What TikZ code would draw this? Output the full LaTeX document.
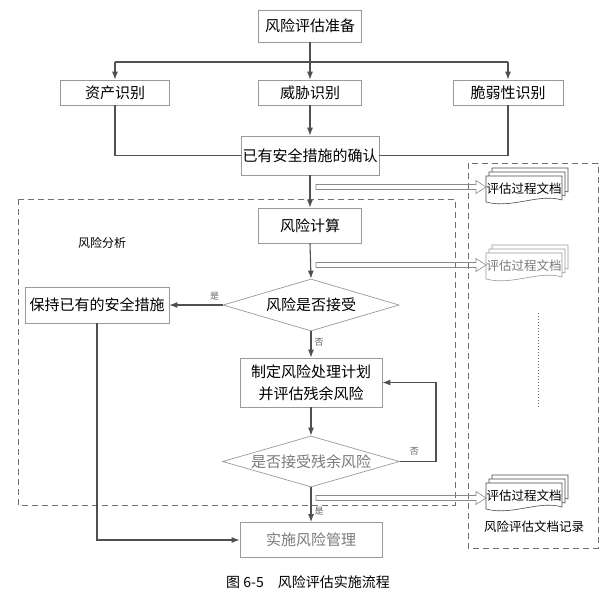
\documentclass[tikz,border=0pt]{standalone}
\usepackage{fontspec}
\setmainfont{Noto Sans CJK SC}
\usetikzlibrary{arrows.meta,shapes.geometric,calc}
\definecolor{boxgray}{HTML}{9A9A9A}
\definecolor{linegray}{HTML}{505050}
\definecolor{dashgray}{HTML}{707070}
\definecolor{harrowgray}{HTML}{8A8A8A}
\definecolor{softtext}{HTML}{7A7A7A}
\newcommand\docstack[5]{%
  \foreach \s in {2,1} {\draw[draw=#4, fill=white, line width=0.6pt, shift={(3*\s,-4*\s)}]
    (#2-38,#3-13) -- (#2+38,#3-13) -- (#2+38,#3+11) .. controls (#2+15,#3+4) and (#2-12,#3+20) .. (#2-38,#3+13) -- cycle;}
  \draw[draw=#4, fill=white, line width=0.6pt]
    (#2-38,#3-13) -- (#2+38,#3-13) -- (#2+38,#3+11) .. controls (#2+15,#3+4) and (#2-12,#3+20) .. (#2-38,#3+13) -- cycle;
  \node[text=#5, font=\fontsize{12.5}{14}\selectfont, inner sep=0pt] (#1) at (#2,#3) {评估过程文档};
}
\newcommand\hollowarr[2]{%
  \draw[draw=harrowgray, line width=0.6pt] let \p1=(#1), \p2=(#2) in
    ({\x1},{\y1+2.5pt}) -- ({\x2-10pt},{\y1+2.5pt}) -- ({\x2-10pt},{\y1+6.5pt}) -- ({\x2},{\y1})
    -- ({\x2-10pt},{\y1-6.5pt}) -- ({\x2-10pt},{\y1-2.5pt}) -- ({\x1},{\y1-2.5pt}) -- cycle;
}
\begin{document}
\begin{tikzpicture}[x=1pt,y=-1pt,
  box/.style={draw=boxgray, line width=0.7pt, inner sep=0pt, font=\fontsize{15}{18}\selectfont, text=black, align=center},
  arr/.style={draw=linegray, line width=1.1pt, -{Latex[length=8pt,width=6pt]}},
  ln/.style={draw=linegray, line width=1.1pt},
  dia/.style={diamond, aspect=3.4, draw=boxgray, line width=0.7pt, inner sep=0pt, font=\fontsize{15}{18}\selectfont},
  lbl/.style={font=\fontsize{9}{10}\selectfont, text=black!60, inner sep=0pt},
  dbox/.style={draw=dashgray, line width=0.9pt, dash pattern=on 6pt off 4pt},
]
\fill[white] (0,0) rectangle (607,597);
\useasboundingbox (0,0) rectangle (607,597);

% dashed frames
\draw[dbox] (18,199) rectangle (455,505);
\draw[dbox] (468,163) rectangle (598,548);

% nodes
\node[box, minimum width=103, minimum height=32] (prep) at (310,26) {风险评估准备};
\node[box, minimum width=109, minimum height=25] (asset) at (115,92.5) {资产识别};
\node[box, minimum width=103, minimum height=25] (threat) at (310,92.5) {威胁识别};
\node[box, minimum width=110, minimum height=25] (vuln) at (508,92.5) {脆弱性识别};
\node[box, minimum width=138, minimum height=39] (confirm) at (310,155.5) {已有安全措施的确认};
\node[box, minimum width=103, minimum height=35] (calc) at (310,225.5) {风险计算};
\node[dia, minimum width=176, minimum height=52] (dia1) at (311,305) {风险是否接受};
\node[box, minimum width=144, minimum height=36] (keep) at (97,305) {保持已有的安全措施};
\node[box, minimum width=142, minimum height=49, font=\fontsize{15}{22}\selectfont] (plan) at (311,382.5) {制定风险处理计划\\并评估残余风险};
\node[dia, minimum width=177, minimum height=51, text=softtext] (dia2) at (311,461.5) {是否接受残余风险};
\node[box, minimum width=142, minimum height=35, text=softtext] (impl) at (311,540) {实施风险管理};

\node[font=\fontsize{12}{14}\selectfont, inner sep=0pt] (ana) at (102,243) {风险分析};
\node[font=\fontsize{12.5}{14}\selectfont, inner sep=0pt] (rec) at (534,527) {风险评估文档记录};
\node[font=\fontsize{14}{16}\selectfont, inner sep=0pt] (cap) at (308,582) {图 6-5\quad 风险评估实施流程};

% top connectors
\coordinate (split) at (310,62);
\draw[ln] (prep.south) -- (split);
\draw[ln] (asset.north |- split) -- (vuln.north |- split);
\draw[arr] (asset.north |- split) -- (asset.north);
\draw[arr] (split) -- (threat.north);
\draw[arr] (vuln.north |- split) -- (vuln.north);
\draw[ln] (asset.south) |- (confirm.west);
\draw[ln] (vuln.south) |- (confirm.east);
\draw[arr] (threat.south) -- (confirm.north);
\draw[arr] (confirm.south) -- (calc.north);
\draw[arr] (calc.south) -- (dia1.north);
\draw[arr] (dia1.west) -- node[lbl, above, yshift=4pt, pos=0.15] {是} (keep.east);
\draw[arr] (dia1.south) -- node[lbl, right, xshift=3pt, pos=0.4] {否} (plan.north);
\draw[arr] (plan.south) -- (dia2.north);
\coordinate (fb) at (436,461.5);
\draw[arr] (dia2.east) -- node[lbl, above, yshift=6pt, pos=0.4] {否} (fb) |- (plan.east);
\draw[arr] (dia2.south) -- node[lbl, right, xshift=3pt, pos=0.68] {是} (impl.north);
\draw[arr] (keep.south) |- (impl.west);

% documents
\docstack{doc1}{524}{189}{black!70}{black}
\docstack{doc2}{524}{266}{boxgray}{softtext}
\docstack{doc3}{524}{496}{black!70}{black}

% hollow arrows
\coordinate (h1s) at (316,187); \coordinate (h1e) at (486,187);
\coordinate (h2s) at (316,265); \coordinate (h2e) at (486,265);
\coordinate (h3s) at (316,498); \coordinate (h3e) at (486,498);
\hollowarr{h1s}{h1e}
\hollowarr{h2s}{h2e}
\hollowarr{h3s}{h3e}

% dotted continuation
\coordinate (dt) at (538,313); \coordinate (db) at (538,409);
\draw[draw=black!60, line width=1pt, dotted] (dt) -- (db);
\end{tikzpicture}
\end{document}
